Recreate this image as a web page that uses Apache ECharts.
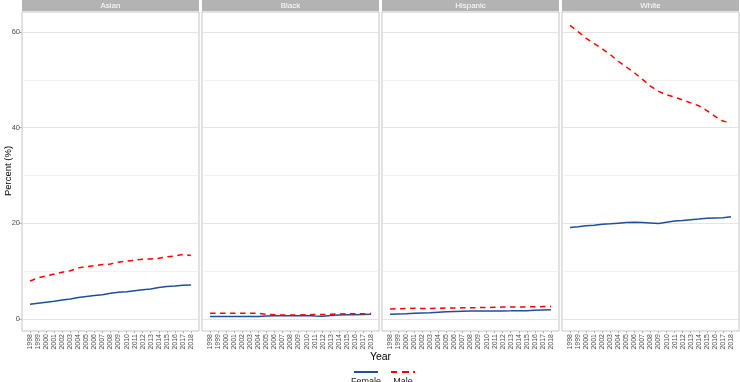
<!DOCTYPE html>
<html>
<head>
<meta charset="utf-8">
<script src="https://cdn.jsdelivr.net/npm/echarts@6/dist/echarts.min.js"></script>
<style>
    html, body { margin: 0; padding: 0; background: #fff; }
    #chart { width: 740px; height: 382px; }
</style>
</head>
<body>
<div id="chart"></div>
<script>
    // years on the x axis (1998 - 2018)
    const years = [1998, 1999, 2000, 2001, 2002, 2003, 2004, 2005, 2006, 2007, 2008,
        2009, 2010, 2011, 2012, 2013, 2014, 2015, 2016, 2017, 2018];
    const groups = ['Asian', 'Black', 'Hispanic', 'White'];
    const yTicks = [0, 20, 40, 60];
    const yMinorTicks = [10, 30, 50];

    // Percent (%) per group
    const femaleAsian = [3.1, 3.3, 3.5, 3.7, 4.0, 4.2, 4.5, 4.7, 4.9, 5.1, 5.4,
        5.6, 5.7, 5.9, 6.1, 6.3, 6.6, 6.8, 6.9, 7.05, 7.1];
    const maleAsian = [7.95, 8.6, 9.0, 9.4, 9.8, 10.1, 10.7, 10.95, 11.15, 11.4, 11.5,
        11.9, 12.1, 12.3, 12.5, 12.55, 12.7, 13.0, 13.2, 13.5, 13.3];
    const femaleBlack = [0.55, 0.55, 0.55, 0.55, 0.55, 0.55, 0.55, 0.65, 0.7, 0.7, 0.7,
        0.7, 0.72, 0.65, 0.6, 0.75, 0.85, 0.9, 0.9, 0.95, 1.0];
    const maleBlack = [1.2, 1.2, 1.2, 1.2, 1.2, 1.2, 1.2, 1.0, 0.9, 0.85, 0.85,
        0.85, 0.9, 0.95, 0.95, 1.0, 1.05, 1.1, 1.1, 1.1, 1.15];
    const femaleHispanic = [1.0, 1.05, 1.1, 1.2, 1.25, 1.3, 1.4, 1.5, 1.6, 1.65, 1.7,
        1.7, 1.7, 1.7, 1.7, 1.72, 1.75, 1.75, 1.85, 1.9, 1.95];
    const maleHispanic = [2.1, 2.15, 2.2, 2.25, 2.2, 2.2, 2.25, 2.3, 2.3, 2.35, 2.35,
        2.4, 2.4, 2.45, 2.5, 2.5, 2.5, 2.55, 2.55, 2.6, 2.6];
    const femaleWhite = [19.15, 19.3, 19.5, 19.6, 19.8, 19.9, 20.05, 20.2, 20.25, 20.2, 20.1,
        20.0, 20.25, 20.5, 20.6, 20.75, 20.9, 21.1, 21.15, 21.2, 21.4];
    const maleWhite = [61.4, 60.1, 58.7, 57.6, 56.5, 55.3, 53.9, 52.7, 51.5, 50.1, 48.7,
        47.6, 46.9, 46.4, 45.8, 45.2, 44.6, 43.6, 42.4, 41.4, 41.0];

    const femaleData = [femaleAsian, femaleBlack, femaleHispanic, femaleWhite];
    const maleData = [maleAsian, maleBlack, maleHispanic, maleWhite];

    const FONT = 'Liberation Sans, Arial, sans-serif';
    const panelLeft = [22, 202, 382, 562];
    const panelW = 177;
    const panelTop = 12;
    const panelH = 319;

    const grid = [], xAxis = [], yAxis = [], series = [], graphic = [];

    // 网格线 (markLine)
    const gridLines = yTicks.map(function (v) {
        return { yAxis: v, lineStyle: { color: '#e4e4e4', width: 1, type: 'solid' } };
    }).concat(yMinorTicks.map(function (v) {
        return { yAxis: v, lineStyle: { color: '#ededed', width: 0.8, type: 'solid' } };
    }));

    groups.forEach(function (g, i) {
        grid.push({
            left: panelLeft[i], top: panelTop, width: panelW, height: panelH,
            show: true, borderColor: '#c4c4c4', borderWidth: 1, backgroundColor: '#fff'
        });
        xAxis.push({
            gridIndex: i, type: 'value', min: 1997, max: 2019, interval: 1,
            axisLine: { show: false, onZero: false },
            axisTick: { show: true, length: 2, lineStyle: { color: '#b3b3b3' }, customValues: years },
            splitLine: { show: false },
            axisLabel: {
                rotate: 90, fontSize: 7, color: '#4d4d4d', fontFamily: FONT, margin: 3,
                customValues: years,
                formatter: function (v) { return String(v); }
            }
        });
        yAxis.push({
            gridIndex: i, type: 'value', min: -2.5, max: 64.2, interval: 2.5,
            axisLine: { show: false },
            axisTick: { show: i === 0, length: 3, lineStyle: { color: '#b3b3b3' }, customValues: yTicks },
            axisLabel: {
                show: i === 0, fontSize: 7.5, color: '#4d4d4d', fontFamily: FONT, margin: 2,
                customValues: yTicks
            },
            splitLine: { show: false }
        });
        series.push({
            name: 'Female', type: 'line', xAxisIndex: i, yAxisIndex: i,
            data: years.map(function (y, k) { return [y, femaleData[i][k]]; }),
            symbol: 'none', color: '#1f4e9c', z: 3,
            lineStyle: { width: 1.5, color: '#1f4e9c' },
            markLine: {
                silent: true, symbol: 'none', z: 1, animation: false,
                label: { show: false },
                lineStyle: { type: 'solid' },
                emphasis: { disabled: true },
                data: gridLines
            }
        });
        series.push({
            name: 'Male', type: 'line', xAxisIndex: i, yAxisIndex: i,
            data: years.map(function (y, k) { return [y, maleData[i][k]]; }),
            symbol: 'none', color: '#ff0000', z: 3,
            lineStyle: { width: 1.5, color: '#ff0000', type: [5.5, 4.5] }
        });
        // facet strip
        graphic.push({
            type: 'rect', left: panelLeft[i], top: 0,
            shape: { width: panelW, height: 11 },
            style: { fill: '#b3b3b3' }, silent: true
        });
        graphic.push({
            type: 'text', x: panelLeft[i] + panelW / 2, y: 5.5,
            style: {
                text: g, fill: '#ffffff', font: '8px ' + FONT,
                textAlign: 'center', textVerticalAlign: 'middle'
            }, silent: true
        });
    });

    graphic.push({
        type: 'text', x: 380.5, y: 357,
        style: { text: 'Year', fill: '#000', font: '10.5px ' + FONT, textAlign: 'center', textVerticalAlign: 'middle' }
    });
    graphic.push({
        type: 'text', x: 8, y: 171, rotation: Math.PI / 2,
        style: { text: 'Percent (%)', fill: '#000', font: '9.5px ' + FONT, textAlign: 'center', textVerticalAlign: 'middle' }
    });
    graphic.push({
        type: 'text', x: 366, y: 377,
        style: { text: 'Female', fill: '#1a1a1a', font: '9px ' + FONT, textAlign: 'center', textVerticalAlign: 'top' }
    });
    graphic.push({
        type: 'text', x: 403, y: 377,
        style: { text: 'Male', fill: '#1a1a1a', font: '9px ' + FONT, textAlign: 'center', textVerticalAlign: 'top' }
    });

    const chart = echarts.init(document.getElementById('chart'), null, { renderer: 'canvas' });
    chart.setOption({
        animation: false,
        backgroundColor: '#fff',
        grid: grid,
        xAxis: xAxis,
        yAxis: yAxis,
        legend: [
            { data: [{ name: 'Female', icon: 'rect' }], left: 354, top: 371, padding: 0,
              itemWidth: 24, itemHeight: 2, itemGap: 0,
              formatter: function () { return ''; }, textStyle: { fontSize: 1 } },
            { data: [{ name: 'Male', icon: 'path://M0,0h6v2h-6z M11,0h7v2h-7z M22,0h2v2h-2z' }],
              left: 391, top: 371, padding: 0,
              itemWidth: 24, itemHeight: 2, itemGap: 0,
              formatter: function () { return ''; }, textStyle: { fontSize: 1 } }
        ],
        series: series,
        graphic: graphic
    });
</script>
</body>
</html>
